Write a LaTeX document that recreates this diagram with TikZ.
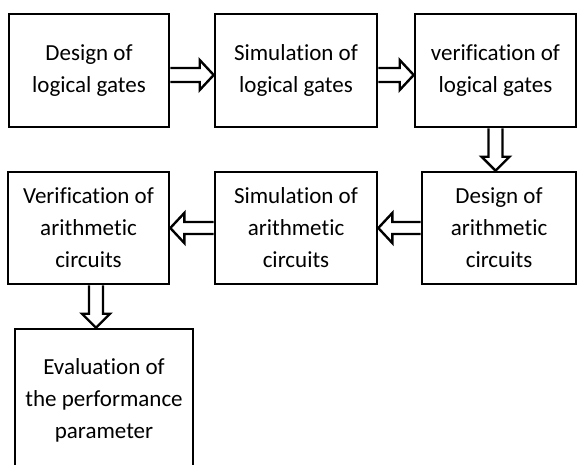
\documentclass[tikz,border=0pt]{standalone}
\usepackage{fontspec}
\setmainfont{Carlito}[RawFeature=-liga]
\usetikzlibrary{calc}
\tikzset{
  stage/.style={draw=black, line width=2.6pt, fill=white, align=center,
    inner sep=0pt, font=\fontsize{23}{32}\selectfont},
  hollow/.style={draw=black, fill=white, line width=2.4pt, line join=miter},
}
% hollow block arrows: shaft half width 7, head half width 15, head length 14
% right-pointing: from node #1 (east side) to node #2 (west side), vertical offset #3
\newcommand{\hollowRight}[3]{%
  \draw[hollow] ($(#1.east)+(0,#3+7)$) -- ($(#2.west)+(-14,#3+7)$) -- ($(#2.west)+(-14,#3+15)$)
    -- ($(#2.west)+(0,#3)$) -- ($(#2.west)+(-14,#3-15)$) -- ($(#2.west)+(-14,#3-7)$)
    -- ($(#1.east)+(0,#3-7)$);}
% left-pointing: from node #1 (west side) to node #2 (east side)
\newcommand{\hollowLeft}[3]{%
  \draw[hollow] ($(#1.west)+(0,#3+6)$) -- ($(#2.east)+(14,#3+6)$) -- ($(#2.east)+(14,#3+15)$)
    -- ($(#2.east)+(0,#3)$) -- ($(#2.east)+(14,#3-15)$) -- ($(#2.east)+(14,#3-6)$)
    -- ($(#1.west)+(0,#3-6)$);}
% downward: from coordinate #1 on a lower edge to coordinate #2 on an upper edge
\newcommand{\hollowDown}[2]{%
  \draw[hollow] ($(#1)+(-7,0)$) -- ($(#2)+(-7,14)$) -- ($(#2)+(-14,14)$)
    -- (#2) -- ($(#2)+(14,14)$) -- ($(#2)+(7,14)$) -- ($(#1)+(7,0)$);}
\begin{document}
\begin{tikzpicture}[x=1pt, y=1pt]
  \useasboundingbox (0,0) rectangle (577,-464);
  \clip (0,0) rectangle (577,-464);

  % first row
  \node[stage, minimum width=160, minimum height=113] (b1) at (89,-70.5)
    {Design of\\logical gates};
  \node[stage, minimum width=162, minimum height=113] (b2) at (296,-70.5)
    {Simulation of\\logical gates};
  \node[stage, minimum width=161, minimum height=113] (b3) at (495.5,-70.5)
    {verification of\\logical gates};

  % second row
  \node[stage, minimum width=154, minimum height=112] (b4) at (499,-228)
    {Design of\\arithmetic\\circuits};
  \node[stage, minimum width=162, minimum height=112] (b5) at (296,-228)
    {Simulation of\\arithmetic\\circuits};
  \node[stage, minimum width=161, minimum height=112] (b6) at (88.5,-228)
    {Verification of\\arithmetic\\circuits};

  % last stage
  \node[stage, minimum width=178, minimum height=142] (b7) at (104,-400)
    {Evaluation of\\the performance\\parameter};

  % connectors
  \hollowRight{b1}{b2}{-4.5}
  \hollowRight{b2}{b3}{-4.5}
  \coordinate (d1) at (b3.south);
  \coordinate (d2) at (b3.south |- b4.north);
  \hollowDown{d1}{d2}
  \hollowLeft{b4}{b5}{0}
  \hollowLeft{b5}{b6}{0}
  \coordinate (d3) at ($(b6.south)+(7.5,0)$);
  \coordinate (d4) at (d3 |- b7.north);
  \hollowDown{d3}{d4}
\end{tikzpicture}
\end{document}
